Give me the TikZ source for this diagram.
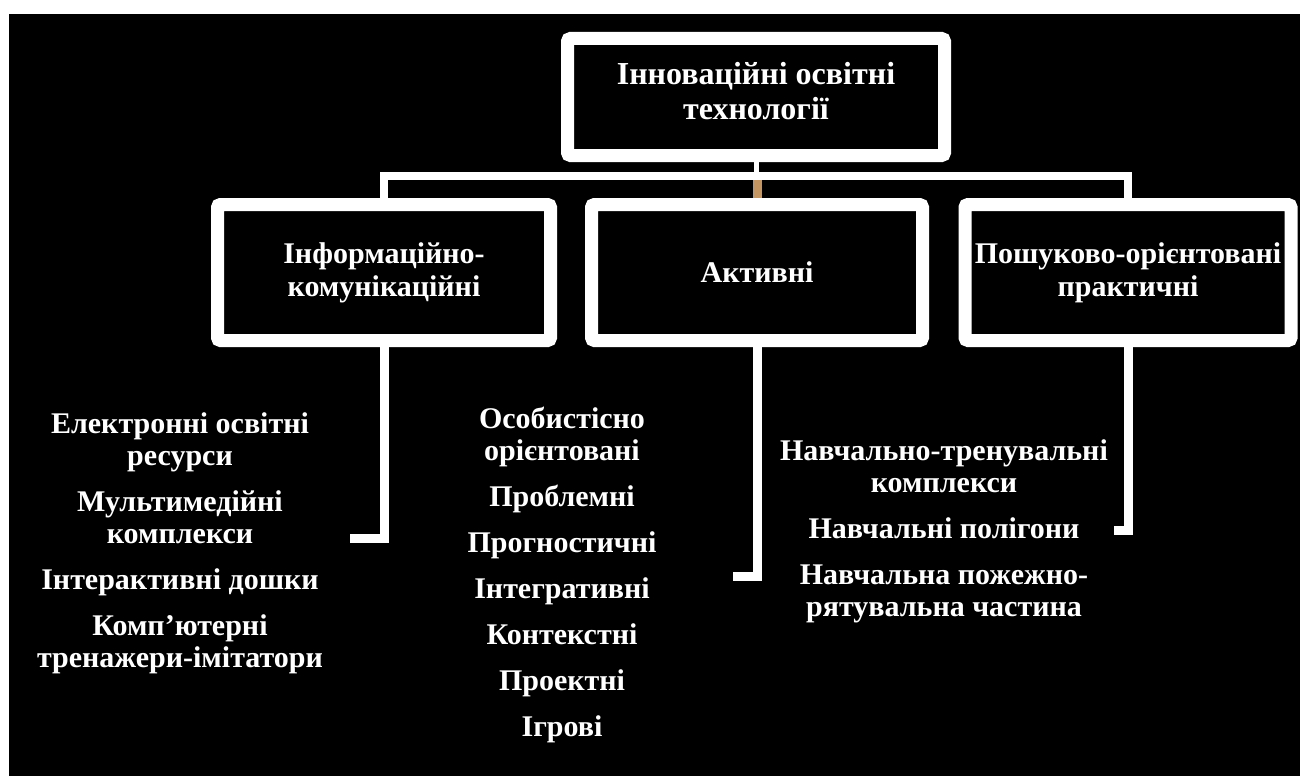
\documentclass[tikz,border=0pt]{standalone}
\usepackage{fontspec}
\setmainfont{Liberation Serif}
\newfontfamily\timesfont{Liberation Serif}
\usetikzlibrary{positioning,calc}
\definecolor{tanline}{RGB}{196,150,98}
\tikzset{
  scheme/.style={
    x=1pt, y=-1pt,
    frame box/.style={rectangle, draw=white, fill=black, line width=13pt, rounded corners=3pt,
        text=white, align=center, inner sep=0pt},
    head box/.style={frame box, minimum width=377pt, minimum height=117pt, text depth=12pt,
        font={\timesfont\fontsize{32}{35}\selectfont\bfseries}},
    group box/.style={frame box, minimum height=136pt, font={\timesfont\fontsize{30}{33}\selectfont\bfseries}},
    item list/.style={anchor=north, align=center, text=white, inner sep=0pt,
        font={\timesfont\fontsize{30}{32}\selectfont\bfseries}},
    bus/.style={draw=white, line width=8pt},
    foot/.style={draw=white, line width=9pt},
  }
}
\pgfdeclarelayer{background}
\pgfsetlayers{background,main}
\newcommand{\nextitem}{\\[14pt]}

\begin{document}
\begin{tikzpicture}[scheme]
    \useasboundingbox (0,0) rectangle (1300,776);
    \node[head box] (head) at (756,97) {Інноваційні освітні\\технології};
    \node[group box, minimum width=333pt] (ict) at (384,272.5) {Інформаційно-\\комунікаційні};
    \node[group box, minimum width=331pt] (act) at (757,272.5) {Активні};
    \node[group box, minimum width=326pt] (pk) at (1128,272.5) {Пошуково-орієнтовані\\практичні};

    \node[item list] (ictlist) at (180,412) {Електронні освітні\\ресурси\nextitem
        Мультимедійні\\комплекси\nextitem Інтерактивні дошки\nextitem
        Комп’ютерні\\тренажери-імітатори};
    \node[item list] (actlist) at (562,407) {Особистісно\\орієнтовані\nextitem
        Проблемні\nextitem Прогностичні\nextitem Інтегративні\nextitem
        Контекстні\nextitem Проектні\nextitem Ігрові};
    \node[item list] (pklist) at (944,439) {Навчально-тренувальні\\комплекси\nextitem
        Навчальні полігони\nextitem Навчальна пожежно-\\рятувальна частина};

    \coordinate (busy) at (0,176);
    \coordinate (ictfoot) at (350,538.5);
    \coordinate (actfoot) at (733,576);
    \coordinate (pkfoot) at (1114,530);

    \begin{pgfonlayer}{background}
    \fill[white] (0,0) rectangle (1300,776);
    \fill[black] (9,14) rectangle (1300,776);
    % connectors
    \draw[tanline, line width=9pt] (act.north |- busy) -- (act.north);
    \draw[white, line width=5pt] (head.south) -- (head.south |- busy);
    \draw[bus] (ict.north) |- (pk.north |- busy) -- (pk.north);
    \draw[foot] (ict.south) |- (ictfoot);
    \draw[foot] (act.south) |- (actfoot);
    \draw[foot] (pk.south) |- (pkfoot);
    \end{pgfonlayer}
\end{tikzpicture}
\end{document}
